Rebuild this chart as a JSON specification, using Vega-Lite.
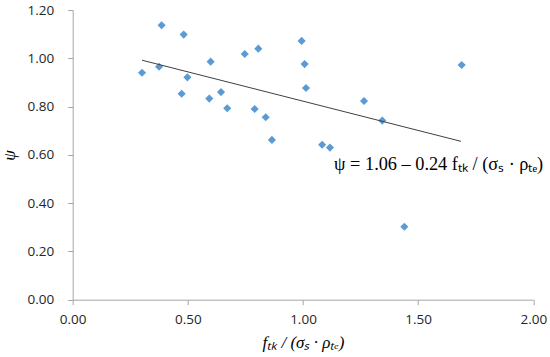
{
  "$schema": "https://vega.github.io/schema/vega-lite/v6.json",
  "autosize": {"type": "none"},
  "padding": {"left": 72.7, "top": 10, "right": 16.7, "bottom": 57.3},
  "width": 460.6,
  "height": 289.7,
  "background": "white",
  "config": {"view": {"stroke": null}},
  "datasets": {
    "pts": [
      {"x": 0.301, "y": 0.940},
      {"x": 0.375, "y": 0.965},
      {"x": 0.386, "y": 1.137},
      {"x": 0.482, "y": 1.098},
      {"x": 0.498, "y": 0.921},
      {"x": 0.473, "y": 0.853},
      {"x": 0.599, "y": 0.986},
      {"x": 0.593, "y": 0.833},
      {"x": 0.644, "y": 0.860},
      {"x": 0.671, "y": 0.793},
      {"x": 0.747, "y": 1.018},
      {"x": 0.806, "y": 1.040},
      {"x": 0.790, "y": 0.790},
      {"x": 0.838, "y": 0.756},
      {"x": 0.865, "y": 0.662},
      {"x": 0.994, "y": 1.072},
      {"x": 1.007, "y": 0.976},
      {"x": 1.013, "y": 0.877},
      {"x": 1.083, "y": 0.642},
      {"x": 1.117, "y": 0.630},
      {"x": 1.265, "y": 0.823},
      {"x": 1.344, "y": 0.742},
      {"x": 1.689, "y": 0.972},
      {"x": 1.440, "y": 0.302}
    ],
    "fit": [
      {"x": 0.301, "y": 0.992},
      {"x": 1.686, "y": 0.656}
    ],
    "label": [
      {"x": 1.135, "y": 0.558, "t": "ψ = 1.06 – 0.24 fₜₖ / (σₛ · ρₜₑ)"}
    ]
  },
  "layer": [
    {
      "data": {"name": "pts"},
      "mark": {"type": "point", "shape": "diamond", "filled": true, "size": 66, "color": "#5b9bd5", "opacity": 1},
      "encoding": {
        "x": {
          "field": "x", "type": "quantitative",
          "scale": {"domain": [0, 2], "nice": false, "zero": false},
          "axis": {
            "values": [0, 0.5, 1, 1.5, 2], "format": ".2f", "grid": false, "labelFlush": false,
            "domainColor": "#a6a6a6", "tickColor": "#a6a6a6", "tickSize": 5,
            "labelFont": "Open Sans", "labelFontSize": 13.5, "labelColor": "#262626", "labelPadding": 8,
            "title": "fₜₖ / (σₛ · ρₜₑ)", "titleFont": "Liberation Serif", "titleFontSize": 17,
            "titleFontStyle": "italic", "titleFontWeight": "normal", "titleColor": "#000000", "titlePadding": 8
          }
        },
        "y": {
          "field": "y", "type": "quantitative",
          "scale": {"domain": [0, 1.2], "nice": false, "zero": false},
          "axis": {
            "values": [0, 0.2, 0.4, 0.6, 0.8, 1.0, 1.2], "format": ".2f", "grid": false, "labelFlush": false,
            "domainColor": "#a6a6a6", "tickColor": "#a6a6a6", "tickSize": 5,
            "labelFont": "Open Sans", "labelFontSize": 13.5, "labelColor": "#262626", "labelPadding": 14,
            "title": "ψ", "titleFont": "Liberation Serif", "titleFontSize": 17,
            "titleFontStyle": "italic", "titleFontWeight": "normal", "titleColor": "#000000", "titlePadding": 8
          }
        }
      }
    },
    {
      "data": {"name": "fit"},
      "mark": {"type": "line", "color": "#404040", "strokeWidth": 1},
      "encoding": {
        "x": {"field": "x", "type": "quantitative"},
        "y": {"field": "y", "type": "quantitative"}
      }
    },
    {
      "data": {"name": "label"},
      "mark": {"type": "text", "align": "left", "baseline": "middle", "font": "Liberation Serif", "fontSize": 18.3, "fontStyle": "normal", "color": "#000000"},
      "encoding": {
        "x": {"field": "x", "type": "quantitative"},
        "y": {"field": "y", "type": "quantitative"},
        "text": {"field": "t"}
      }
    }
  ]
}
